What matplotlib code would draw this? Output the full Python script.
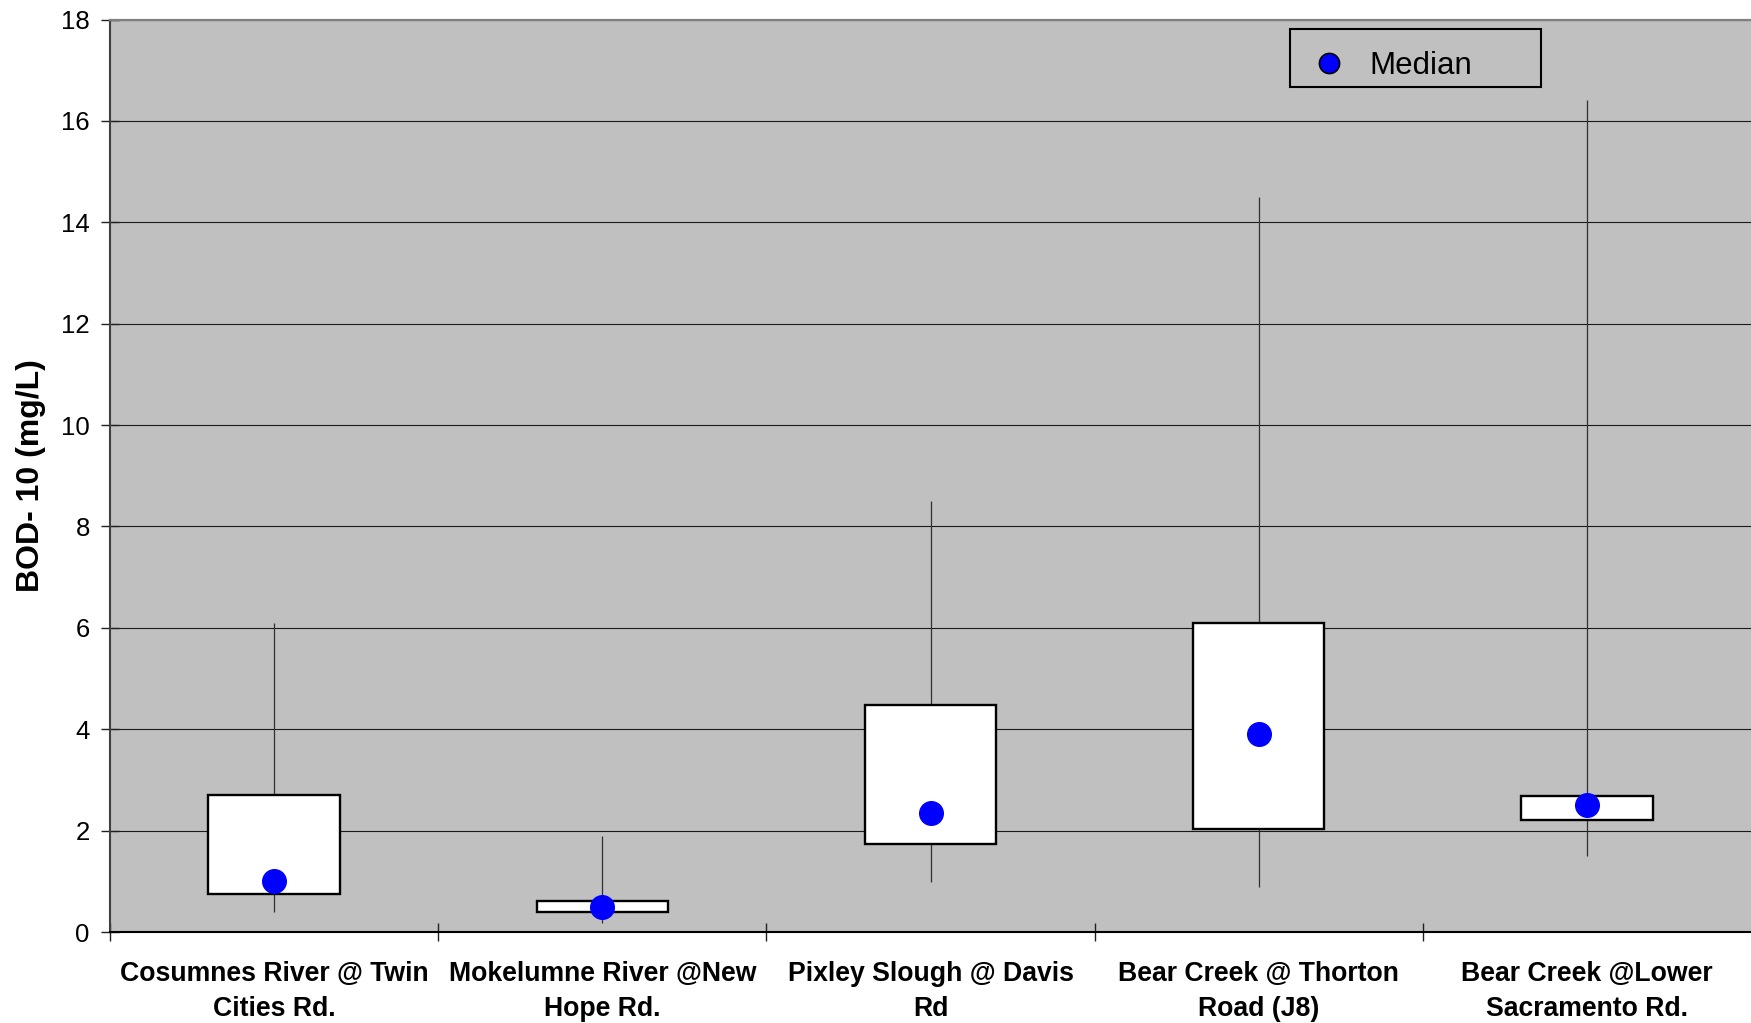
import matplotlib
matplotlib.use("Agg")
import matplotlib.pyplot as plt
from matplotlib.lines import Line2D
from matplotlib.patches import Rectangle
import numpy as np

# ---- data ----
categories = [
    "Cosumnes River @ Twin\nCities Rd.",
    "Mokelumne River @New\nHope Rd.",
    "Pixley Slough @ Davis\nRd",
    "Bear Creek @ Thorton\nRoad (J8)",
    "Bear Creek @Lower\nSacramento Rd.",
]
whisker_low = [0.39, 0.18, 0.99, 0.89, 1.49]
box_q1 = [0.75, 0.39, 1.74, 2.04, 2.20]
median = [1.00, 0.50, 2.35, 3.90, 2.50]
box_q3 = [2.70, 0.61, 4.48, 6.09, 2.69]
whisker_high = [6.10, 1.89, 8.50, 14.50, 16.42]
y_ticks = [0, 2, 4, 6, 8, 10, 12, 14, 16, 18]

plt.rcParams['font.family'] = ['Liberation Sans', 'DejaVu Sans']

W, H = 1751, 1023
fig = plt.figure(figsize=(W / 100, H / 100), dpi=100)
left, right, top, bottom = 110, 1751, 19.5, 932
ax = fig.add_axes([left / W, 1 - bottom / H, (right - left) / W, (bottom - top) / H])
ax.set_facecolor('#C0C0C0')

x = np.arange(1, len(categories) + 1)

# grid
ax.set_axisbelow(True)
ax.yaxis.grid(True, color='#1a1a1a', linewidth=0.8, zorder=0)

# whiskers
ax.vlines(x, whisker_low, whisker_high, colors='#303030', linewidth=0.9, zorder=2)
# boxes
heights = np.array(box_q3) - np.array(box_q1)
ax.bar(x, heights, bottom=box_q1, width=0.4, color='white', edgecolor='black',
       linewidth=1.7, zorder=3)
# medians
ax.plot(x, median, linestyle='none', marker='o', markersize=17,
        markerfacecolor='#0000FF', markeredgecolor='#0000FF', zorder=4)

ax.set_xlim(0.5, 5.5)
ax.set_ylim(0, 18)
ax.set_yticks(y_ticks)
ax.set_yticklabels([str(v) for v in y_ticks], fontsize=18.5)

# x: major ticks at boundaries, labels on minor ticks at centers
ax.set_xticks(np.arange(0.5, 5.0, 1.0))
ax.set_xticklabels([])
ax.set_xticks(x, minor=True)
ax.set_xticklabels(categories, minor=True, fontsize=19.2, fontweight='bold',
                   linespacing=1.42)
ax.tick_params(axis='x', which='major', direction='inout', length=13, width=1.0,
               color='#202020')
ax.tick_params(axis='x', which='minor', length=0, pad=21)
ax.tick_params(axis='y', which='major', direction='inout', length=13, width=1.0,
               color='#202020', pad=8)

ax.spines['right'].set_visible(False)
ax.spines['top'].set_color('#808080')
ax.spines['top'].set_linewidth(1.6)
ax.spines['left'].set_color('#404040')
ax.spines['left'].set_linewidth(1.5)
ax.spines['bottom'].set_color('black')
ax.spines['bottom'].set_linewidth(1.5)

fig.text(31 / W, 1 - 476 / H, 'BOD- 10 (mg/L)', rotation=90, ha='center',
         va='center', fontsize=23, fontweight='bold')

# legend frame
frame = Rectangle((1290 / W, 1 - 87 / H), 251 / W, 58 / H, transform=fig.transFigure,
                  facecolor='#C0C0C0', edgecolor='black', linewidth=1.5,
                  zorder=4.5, clip_on=False)
ax.add_artist(frame)

# legend content
handle = Line2D([], [], linestyle='none', marker='o', markersize=14.5,
                markerfacecolor='#0000FF', markeredgecolor='black',
                markeredgewidth=1.2)
leg = ax.legend([handle], ['Median'], loc='center left',
                bbox_to_anchor=(1290 / W, 1 - 66 / H),
                bbox_transform=fig.transFigure, borderaxespad=0,
                fontsize=22.5, handlelength=1.6, handletextpad=0.5,
                borderpad=0.45, frameon=False)
leg.set_zorder(5)

fig.savefig('out.png', dpi=100)
